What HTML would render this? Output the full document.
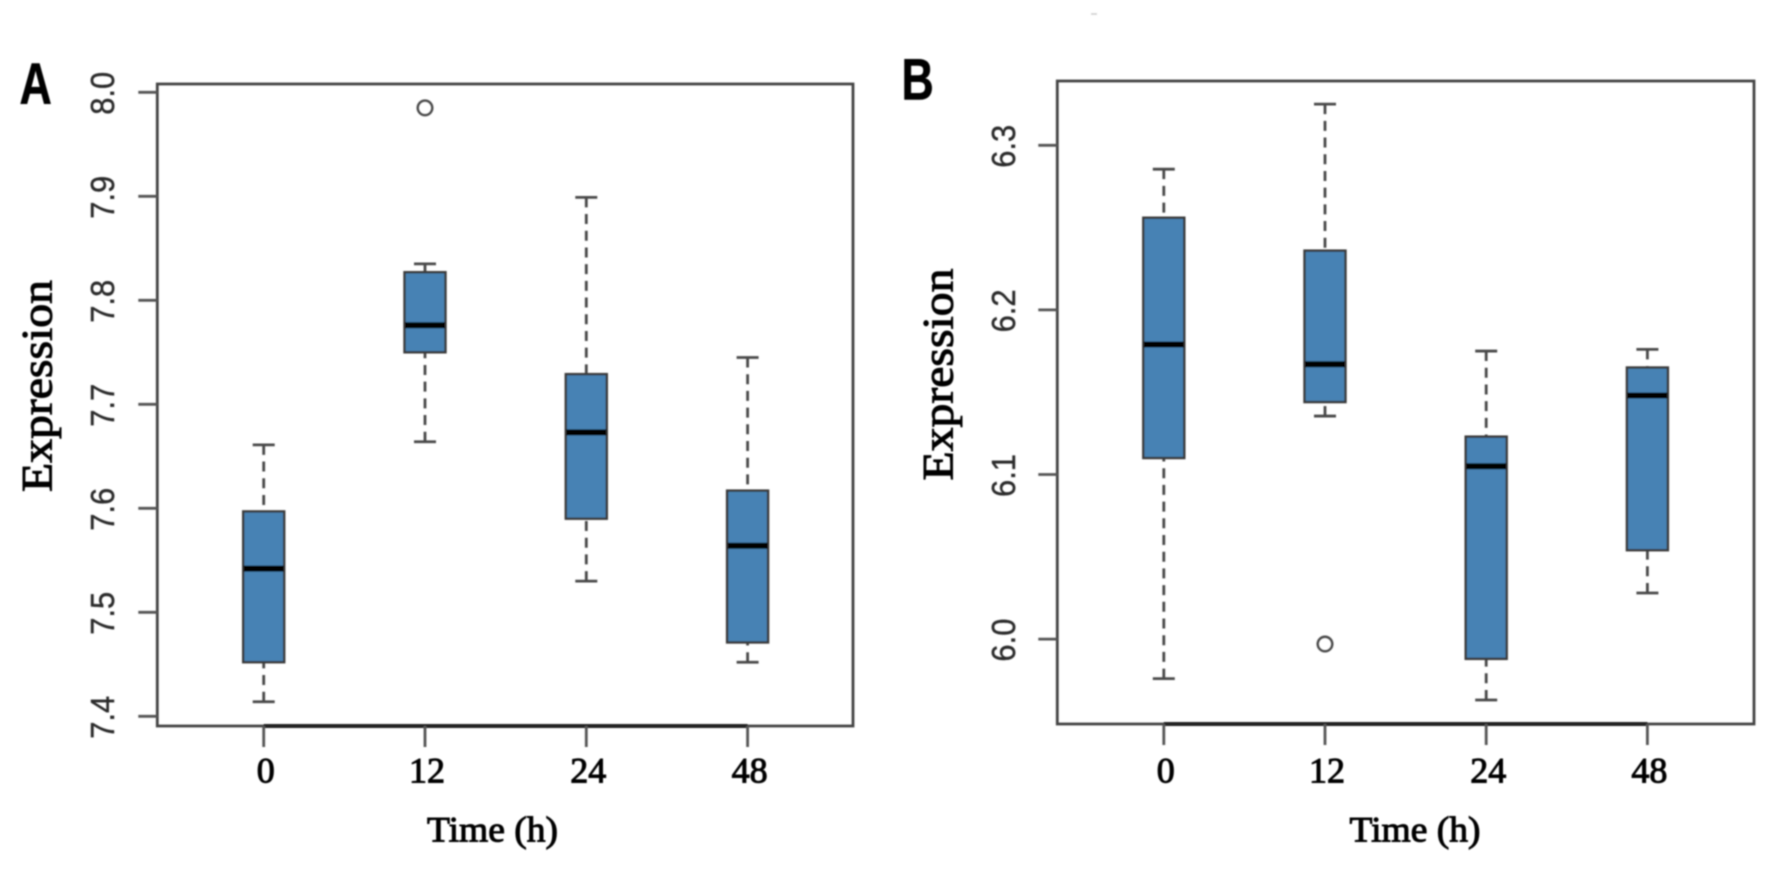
<!DOCTYPE html>
<html lang="en">
<head>
<meta charset="utf-8">
<title>Expression over time box plots</title>
<style>
html,body{margin:0;padding:0;background:#fff;width:1772px;height:869px;overflow:hidden}
svg{display:block}
</style>
</head>
<body>
<svg id="fig" xmlns="http://www.w3.org/2000/svg" width="1772" height="869" viewBox="0 0 1772 869">
<defs><filter id="soft" x="-2%" y="-2%" width="104%" height="104%"><feGaussianBlur stdDeviation="0.9"/></filter></defs>
<rect width="1772" height="869" fill="#fff"/>
<g id="root" filter="url(#soft)">
<line x1="1091" y1="14" x2="1097" y2="14" stroke="#ccc" stroke-width="1.5"/>
</g>
</svg>
<script>
const categories = ['0', '12', '24', '48'];

const yTicksA = [7.4, 7.5, 7.6, 7.7, 7.8, 7.9, 8.0];
const lowA = [7.414, 7.664, 7.530, 7.452];
const q1A = [7.452, 7.750, 7.590, 7.471];
const medianA = [7.542, 7.776, 7.673, 7.564];
const q3A = [7.597, 7.827, 7.729, 7.617];
const highA = [7.661, 7.835, 7.899, 7.745];
const outliersA = [null, 7.985, null, null];

const yTicksB = [6.0, 6.1, 6.2, 6.3];
const lowB = [5.976, 6.1355, 5.963, 6.028];
const q1B = [6.110, 6.144, 5.988, 6.054];
const medianB = [6.179, 6.167, 6.105, 6.148];
const q3B = [6.256, 6.236, 6.123, 6.165];
const highB = [6.2855, 6.325, 6.175, 6.176];
const outliersB = [null, 5.997, null, null];

const NS = 'http://www.w3.org/2000/svg';
const root = document.getElementById('root');

function mk(tag, attrs, parent, name, interactable) {
  const el = document.createElementNS(NS, tag);
  for (const k in attrs) el.setAttribute(k, attrs[k]);
  
  
  parent.appendChild(el);
  return el;
}

function txt(content, attrs, parent, name) {
  const el = mk('text', attrs, parent, name, false);
  el.textContent = content;
  return el;
}

const serif = '"Liberation Serif", serif';
const sans = '"Liberation Sans", sans-serif';
const FRAME = '#444';
const WHISK = '#4a4a4a';

function drawPanel(p) {
  const g = mk('g', {}, root, 'panel-' + p.id, false);
  const xScale = i => p.x0 + i * p.dx;
  const yScale = v => p.yRefPx + (p.yRefVal - v) * p.pxPerUnit;

  // Panel letter
  const letter = mk('text', {
    transform: 'translate(' + p.letterX + ',' + p.letterY + ') scale(0.77,1)',
    'font-family': sans, 'font-weight': 'bold', 'font-size': 58, fill: '#000', stroke: '#000', 'stroke-width': 0.6
  }, g, 'panel-label-' + p.id, false);
  letter.textContent = p.id;

  // Boxes
  categories.forEach((c, i) => {
    const x = xScale(i);
    const bg = mk('g', {}, g, 'box-' + p.id + '-' + c + 'h', false);
    mk('line', {x1: x, x2: x, y1: yScale(p.high[i]), y2: yScale(p.q3[i]), stroke: WHISK, 'stroke-width': 2.8, 'stroke-dasharray': '10 6.7'}, bg, 'upper-whisker', false);
    mk('line', {x1: x, x2: x, y1: yScale(p.low[i]), y2: yScale(p.q1[i]), stroke: WHISK, 'stroke-width': 2.8, 'stroke-dasharray': '10 6.7'}, bg, 'lower-whisker', false);
    mk('line', {x1: x - 11, x2: x + 11, y1: yScale(p.high[i]), y2: yScale(p.high[i]), stroke: WHISK, 'stroke-width': 2.8}, bg, 'upper-whisker-cap', false);
    mk('line', {x1: x - 11, x2: x + 11, y1: yScale(p.low[i]), y2: yScale(p.low[i]), stroke: WHISK, 'stroke-width': 2.8}, bg, 'lower-whisker-cap', false);
    mk('rect', {x: x - 20.5, width: 41, y: yScale(p.q3[i]), height: yScale(p.q1[i]) - yScale(p.q3[i]), fill: '#4682b4', stroke: '#3a3a3a', 'stroke-width': 2.4}, bg, 'interquartile-box', false);
    mk('line', {x1: x - 20, x2: x + 20, y1: yScale(p.median[i]), y2: yScale(p.median[i]), stroke: '#000', 'stroke-width': 6}, bg, 'median-line', false);
    if (p.outliers[i] !== null) {
      mk('circle', {cx: x, cy: yScale(p.outliers[i]), r: 7.3, fill: 'none', stroke: '#4a4a4a', 'stroke-width': 2.4}, bg, 'outlier-point', false);
    }
  });

  // Frame
  mk('rect', {x: p.left, y: p.top, width: p.right - p.left, height: p.bottom - p.top, fill: 'none', stroke: FRAME, 'stroke-width': 2.8}, g, 'plot-frame', false);

  // X axis
  const xa = mk('g', {}, g, 'x-axis', false);
  mk('line', {x1: xScale(0), x2: xScale(categories.length - 1), y1: p.bottom, y2: p.bottom, stroke: '#222', 'stroke-width': 4}, xa, 'x-axis-line', false);
  categories.forEach((c, i) => {
    const x = xScale(i);
    mk('line', {x1: x, x2: x, y1: p.bottom, y2: p.bottom + 21, stroke: '#555', 'stroke-width': 2.8}, xa, 'x-tick', false);
    txt(c, {x: x + 2, y: 782.5, 'text-anchor': 'middle', 'font-family': serif, 'font-size': 36, fill: '#000', stroke: '#000', 'stroke-width': 1}, xa, 'x-tick-label');
  });
  txt('Time (h)', {x: p.xTitleX, y: 841.5, 'text-anchor': 'middle', 'font-family': serif, 'font-size': 36, textLength: 131, lengthAdjust: 'spacingAndGlyphs', fill: '#000', stroke: '#000', 'stroke-width': 1}, xa, 'x-axis-title');

  // Y axis
  const ya = mk('g', {}, g, 'y-axis', false);
  p.yTicks.forEach(t => {
    const y = yScale(t);
    mk('line', {x1: p.left - 19, x2: p.left, y1: y, y2: y, stroke: '#555', 'stroke-width': 2.8}, ya, 'y-tick', false);
    txt(t.toFixed(1), {transform: 'translate(' + p.yLabelX + ',' + (y + 1) + ') rotate(-90)', 'text-anchor': 'middle', 'font-family': sans, 'font-size': 33, textLength: 43, lengthAdjust: 'spacingAndGlyphs', fill: '#2a2a2a', stroke: '#2a2a2a', 'stroke-width': 0.4}, ya, 'y-tick-label');
  });
  txt('Expression', {transform: 'translate(' + p.yTitleX + ',' + p.yTitleY + ') rotate(-90)', 'text-anchor': 'middle', 'font-family': serif, 'font-size': 43, textLength: 212, lengthAdjust: 'spacingAndGlyphs', fill: '#000', stroke: '#000', 'stroke-width': 1}, ya, 'y-axis-title');
}

drawPanel({
  id: 'A', low: lowA, q1: q1A, median: medianA, q3: q3A, high: highA, outliers: outliersA, yTicks: yTicksA,
  left: 157.3, right: 853, top: 84, bottom: 726,
  x0: 263.7, dx: 161.3, yRefVal: 8.0, yRefPx: 92.3, pxPerUnit: 1040,
  letterX: 19.5, letterY: 104, yLabelX: 114, yTitleX: 51.5, yTitleY: 386, xTitleX: 492.5
});

drawPanel({
  id: 'B', low: lowB, q1: q1B, median: medianB, q3: q3B, high: highB, outliers: outliersB, yTicks: yTicksB,
  left: 1057.3, right: 1754, top: 81, bottom: 724,
  x0: 1163.8, dx: 161.2, yRefVal: 6.3, yRefPx: 145.3, pxPerUnit: 1646,
  letterX: 901.5, letterY: 99.5, yLabelX: 1015, yTitleX: 952.5, yTitleY: 374.5, xTitleX: 1415
});
</script>
</body>
</html>
